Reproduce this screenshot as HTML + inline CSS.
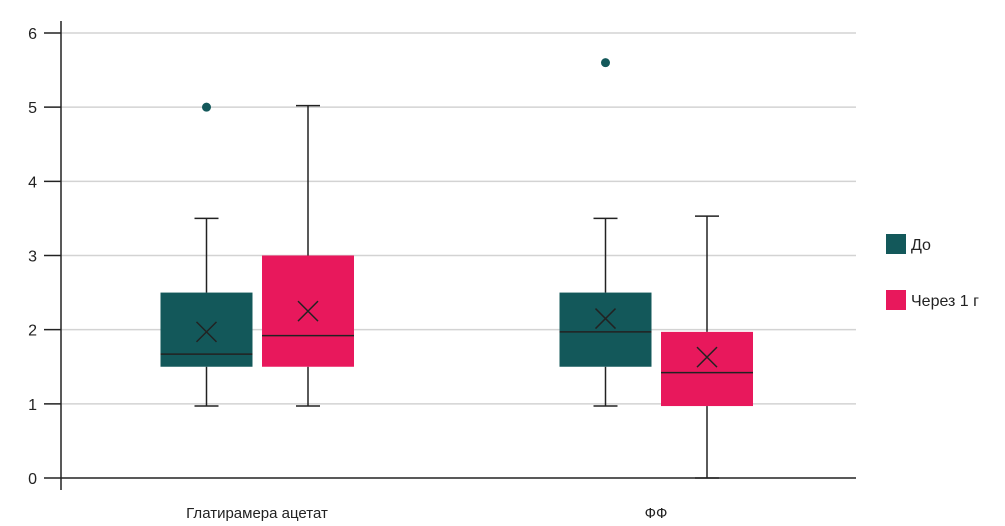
<!DOCTYPE html>
<html><head><meta charset="utf-8"><style>
body{margin:0;background:#fff;}
svg{display:block;font-family:"Liberation Sans",Arial,sans-serif;}
</style></head><body>
<svg width="1005" height="526" viewBox="0 0 1005 526">
<g id="grid"></g>
<g id="axis"></g>
<g id="boxes"></g>
<g id="xlabels"></g>
<g>
<rect x="886" y="234" width="20" height="20" fill="#13585a"/>
<text x="911" y="250" font-size="16" fill="#222">До</text>
<rect x="886" y="290" width="20" height="20" fill="#e8185c"/>
<text x="911" y="306" font-size="16" fill="#222">Через 1 г</text>
</g>
</svg>
<script>
const categories=["Глатирамера ацетат","ФФ"];
const yTicks=[0,1,2,3,4,5,6];
const seriesNames=["До","Через 1 г"];
const minVals=[[0.97,0.97],[0.97,0.0]];
const q1Vals=[[1.5,1.5],[1.5,0.97]];
const medianVals=[[1.67,1.92],[1.97,1.42]];
const meanVals=[[1.97,2.25],[2.15,1.63]];
const q3Vals=[[2.5,3.0],[2.5,1.97]];
const maxVals=[[3.5,5.02],[3.5,3.53]];
const outliers=[[[5.0],[]],[[5.6],[]]];
const colors=["#13585a","#e8185c"];
const NS="http://www.w3.org/2000/svg";
function y(v){return 478-v*74.17;}
const catCenters=[257,656];
function mk(tag,attrs,parent){const e=document.createElementNS(NS,tag);for(const k in attrs)e.setAttribute(k,attrs[k]);parent.appendChild(e);return e;}
const grid=document.getElementById('grid'),axis=document.getElementById('axis'),boxes=document.getElementById('boxes'),xl=document.getElementById('xlabels');
yTicks.forEach(t=>{
  if(t>0){const g=mk('line',{x1:61,x2:856,y1:y(t),y2:y(t),stroke:'#d3d3d3','stroke-width':1.5},grid);
  
  }
  const tk=mk('line',{x1:44,x2:61,y1:y(t),y2:y(t),stroke:'#222','stroke-width':1.5},axis);
  
  
  const tx=mk('text',{x:37,y:y(t)+6,'font-size':16,fill:'#222','text-anchor':'end'},axis);
  tx.textContent=t;
  
  
});
const base=mk('line',{x1:61,x2:856,y1:y(0),y2:y(0),stroke:'#222','stroke-width':1.5},axis);


const ax=mk('line',{x1:61,x2:61,y1:21,y2:490,stroke:'#222','stroke-width':1.5},axis);


categories.forEach((c,ci)=>{
  const lt=mk('text',{x:catCenters[ci],y:518,'font-size':15,fill:'#222','text-anchor':'middle'},xl);
  lt.textContent=c;
  
  
  seriesNames.forEach((s,si)=>{
    const cx=catCenters[ci]+(si===0?-50.5:51), w=92, x0=cx-w/2;
    const g=mk('g',{},boxes);
    
    
    const st={stroke:'#222','stroke-width':1.5};
    mk('line',Object.assign({x1:cx,x2:cx,y1:y(maxVals[ci][si]),y2:y(q3Vals[ci][si])},st),g);
    mk('line',Object.assign({x1:cx,x2:cx,y1:y(q1Vals[ci][si]),y2:y(minVals[ci][si])},st),g);
    mk('line',Object.assign({x1:cx-12,x2:cx+12,y1:y(maxVals[ci][si]),y2:y(maxVals[ci][si])},st),g);
    mk('line',Object.assign({x1:cx-12,x2:cx+12,y1:y(minVals[ci][si]),y2:y(minVals[ci][si])},st),g);
    mk('rect',{x:x0,y:y(q3Vals[ci][si]),width:w,height:y(q1Vals[ci][si])-y(q3Vals[ci][si]),fill:colors[si]},g);
    mk('line',Object.assign({x1:x0,x2:x0+w,y1:y(medianVals[ci][si]),y2:y(medianVals[ci][si])},st),g);
    const my=y(meanVals[ci][si]);
    mk('path',{d:`M${cx-10} ${my-10}L${cx+10} ${my+10}M${cx+10} ${my-10}L${cx-10} ${my+10}`,stroke:'#222','stroke-width':1.5},g);
    outliers[ci][si].forEach(o=>{mk('circle',{cx:cx,cy:y(o),r:4.5,fill:colors[si]},g);});
  });
});
</script>
</body></html>
